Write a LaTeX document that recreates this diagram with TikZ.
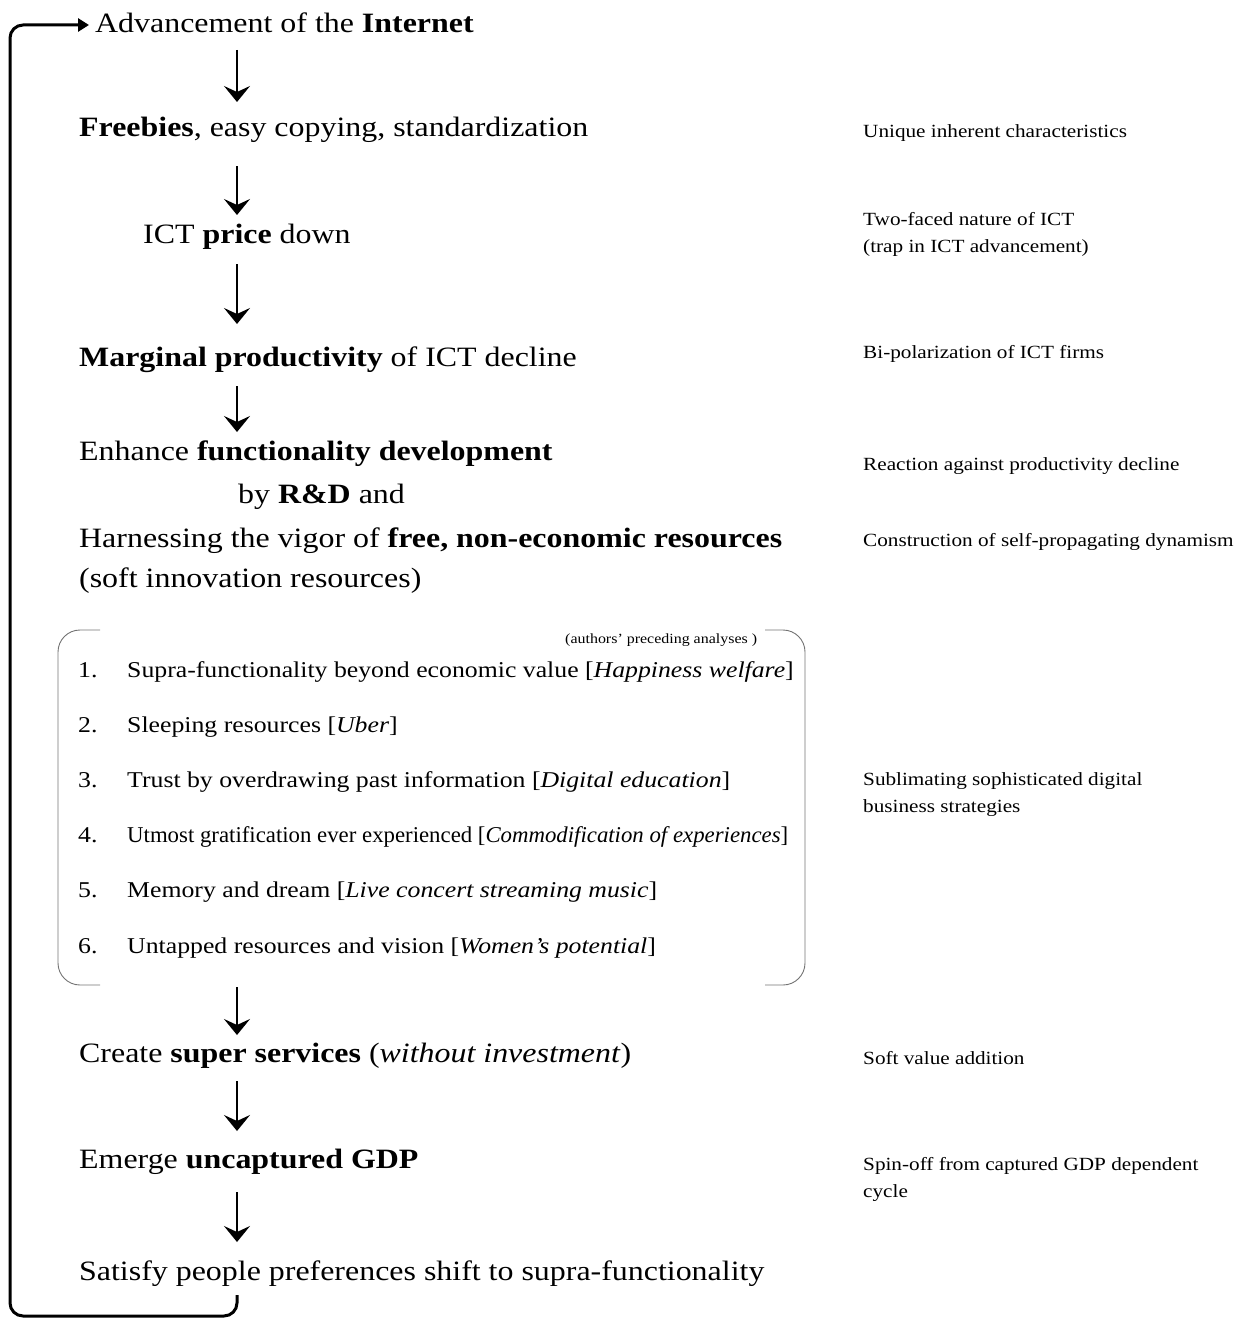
\documentclass[tikz,border=0pt]{standalone}
\usepackage{fontspec}
\usepackage{graphicx}
\setmainfont{Liberation Serif}[FakeStretch=1.14]
\usetikzlibrary{arrows.meta}
\begin{document}
\begin{tikzpicture}[x=1pt,y=-1pt,
  main/.style={anchor=base west,inner sep=0pt,font=\fontsize{28}{34}\selectfont},
  side/.style={anchor=base west,inner sep=0pt,font=\fontsize{18.6}{27}\selectfont},
  item/.style={anchor=base west,inner sep=0pt,font=\fontsize{22.6}{28}\selectfont},
  tiny/.style={anchor=base west,inner sep=0pt,font=\fontsize{14}{16}\selectfont},
  flow/.style={line width=1.8pt,-{Stealth[length=16pt,width=26pt,inset=6pt]}},
  loopline/.style={line width=3pt,rounded corners=13pt,-{Triangle[length=11pt,width=13pt]}},
  brk/.style={draw=black!55,line width=0.9pt,rounded corners=22pt}]
\useasboundingbox (0,0) rectangle (1246,1319);

% left column
\node[main] (t1) at (95,33) {Advancement of the \textbf{Internet}};
\node[main] (t2) at (79,136) {\textbf{Freebies}, easy copying, standardization};
\node[main] (t3) at (143,243) {ICT \textbf{price} down};
\node[main] (t4) at (79,366) {\textbf{Marginal productivity} of ICT decline};
\node[main] (t5a) at (79,460) {Enhance \textbf{functionality development}};
\node[main] (t5b) at (238,503) {by \textbf{R\&D} and};
\node[main] (t5c) at (79,547) {Harnessing the vigor of \textbf{free, non-economic resources}};
\node[main] (t5d) at (79,587) {(soft innovation resources)};
\node[main] (t6) at (79,1062) {Create \textbf{super services} (\textit{without investment})};
\node[main] (t7) at (79,1168) {Emerge \textbf{uncaptured GDP}};
\node[main] (t8) at (79,1280) {Satisfy people preferences shift to supra-functionality};

% bracket box
\draw[brk] (100,630) -- (58,630) -- (58,985) -- (100,985);
\draw[brk] (765,630) -- (805,630) -- (805,985) -- (765,985);
\node[tiny] (au) at (565,643) {(authors’ preceding analyses )};

\node[item] (n1) at (78,677) {1.};
\node[item] (i1) at (127,677) {Supra-functionality beyond economic value [\textit{Happiness welfare}]};
\node[item] (n2) at (78,732) {2.};
\node[item] (i2) at (127,732) {Sleeping resources [\textit{Uber}]};
\node[item] (n3) at (78,787) {3.};
\node[item] (i3) at (127,787) {Trust by overdrawing past information [\textit{Digital education}]};
\node[item] (n4) at (78,842) {4.};
\node[item] (i4) at (127,842) {\scalebox{0.885}[1]{Utmost gratification ever experienced [\textit{Commodification of experiences}]}};
\node[item] (n5) at (78,897) {5.};
\node[item] (i5) at (127,897) {Memory and dream [\textit{Live concert streaming music}]};
\node[item] (n6) at (78,953) {6.};
\node[item] (i6) at (127,953) {Untapped resources and vision [\textit{Women’s potential}]};

% right column
\node[side] (r1) at (863,138) {Unique inherent characteristics};
\node[side] (r2a) at (863,225) {Two-faced nature of ICT};
\node[side] (r2b) at (863,252) {(trap in ICT advancement)};
\node[side] (r3) at (863,358) {Bi-polarization of ICT firms};
\node[side] (r4) at (863,470) {Reaction against productivity decline};
\node[side] (r5) at (863,546) {Construction of self-propagating dynamism};
\node[side] (r6a) at (863,785) {Sublimating sophisticated digital};
\node[side] (r6b) at (863,812) {business strategies};
\node[side] (r7) at (863,1064) {Soft value addition};
\node[side] (r8a) at (863,1170) {Spin-off from captured GDP dependent};
\node[side] (r8b) at (863,1197) {cycle};

% flow arrows
\coordinate (a1s) at (237,50);   \coordinate (a1e) at (237,102);
\coordinate (a2s) at (237,166);  \coordinate (a2e) at (237,215);
\coordinate (a3s) at (237,264);  \coordinate (a3e) at (237,324);
\coordinate (a4s) at (237,386);  \coordinate (a4e) at (237,432);
\coordinate (a5s) at (237,987);  \coordinate (a5e) at (237,1035);
\coordinate (a6s) at (237,1081); \coordinate (a6e) at (237,1131);
\coordinate (a7s) at (237,1192); \coordinate (a7e) at (237,1242);
\foreach \i in {1,...,7} {\draw[flow] (a\i s) -- (a\i e);}

% feedback loop
\coordinate (ls) at (237,1295);
\coordinate (le) at (89,25);
\draw[loopline] (ls) -- (237,1316) -- (10,1316) -- (10,25) -- (le);
\end{tikzpicture}
\end{document}
